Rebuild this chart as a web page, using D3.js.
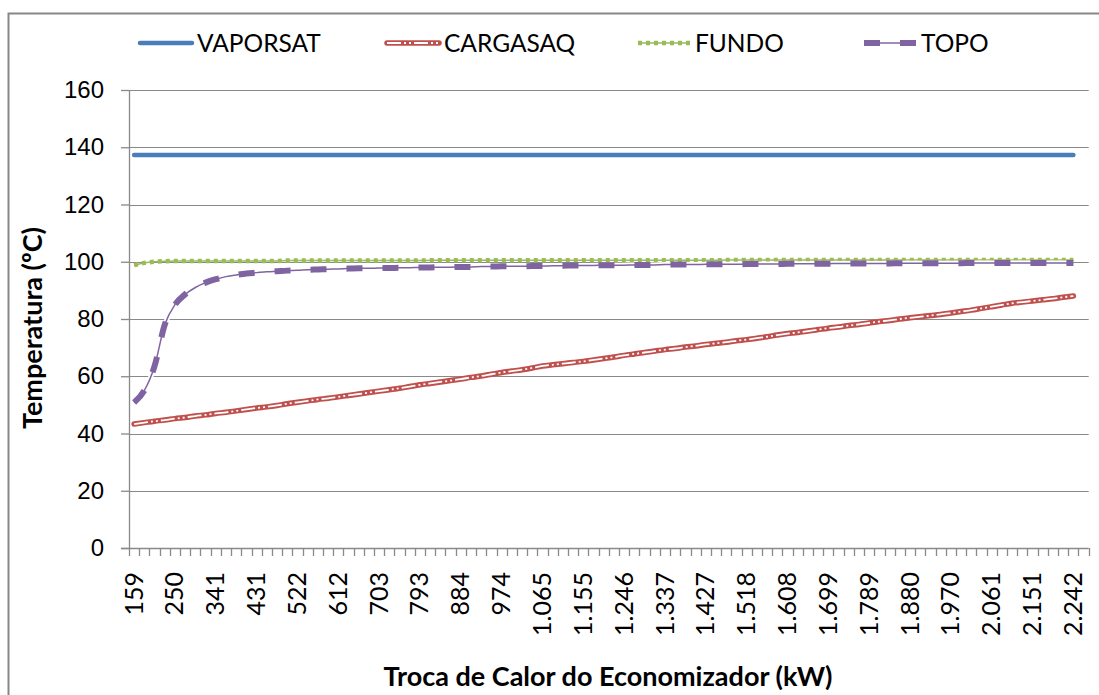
<!DOCTYPE html>
<html>
<head>
<meta charset="utf-8">
<script src="https://cdn.jsdelivr.net/npm/d3@7"></script>
<style>
    body { margin: 0; background: #fff; }
    svg { display: block; font-family: Lato, 'Open Sans', sans-serif; }
    .grid line { stroke: #898989; stroke-width: 1; }
    .axis path, .axis line { stroke: #898989; stroke-width: 1.3; }
    .axis text { fill: #000; font-size: 24px; }
    .x-axis text { font-size: 25px; }
    .title { font-weight: bold; font-size: 27px; fill: #000; }
    .legend text { font-size: 24.5px; fill: #000; }
</style>
</head>
<body>
<svg id="chart" width="1099" height="695"></svg>
<script>
/**
 * Data.
 */
const categories = [
    159, 182, 205, 227, 250, 273, 295, 318, 341, 363,
    386, 408, 431, 454, 476, 499, 522, 544, 567, 590,
    612, 635, 657, 680, 703, 725, 748, 771, 793, 816,
    839, 861, 884, 906, 929, 952, 974, 997, 1020, 1042,
    1065, 1088, 1110, 1133, 1155, 1178, 1201, 1223, 1246, 1269,
    1291, 1314, 1337, 1359, 1382, 1404, 1427, 1450, 1472, 1495,
    1518, 1540, 1563, 1586, 1608, 1631, 1653, 1676, 1699, 1721,
    1744, 1767, 1789, 1812, 1835, 1857, 1880, 1902, 1925, 1948,
    1970, 1993, 2016, 2038, 2061, 2084, 2106, 2129, 2151, 2174,
    2197, 2219, 2242
];

const vaporsat = [
    137.3, 137.3, 137.3, 137.3, 137.3, 137.3, 137.3, 137.3, 137.3, 137.3,
    137.3, 137.3, 137.3, 137.3, 137.3, 137.3, 137.3, 137.3, 137.3, 137.3,
    137.3, 137.3, 137.3, 137.3, 137.3, 137.3, 137.3, 137.3, 137.3, 137.3,
    137.3, 137.3, 137.3, 137.3, 137.3, 137.3, 137.3, 137.3, 137.3, 137.3,
    137.3, 137.3, 137.3, 137.3, 137.3, 137.3, 137.3, 137.3, 137.3, 137.3,
    137.3, 137.3, 137.3, 137.3, 137.3, 137.3, 137.3, 137.3, 137.3, 137.3,
    137.3, 137.3, 137.3, 137.3, 137.3, 137.3, 137.3, 137.3, 137.3, 137.3,
    137.3, 137.3, 137.3, 137.3, 137.3, 137.3, 137.3, 137.3, 137.3, 137.3,
    137.3, 137.3, 137.3, 137.3, 137.3, 137.3, 137.3, 137.3, 137.3, 137.3,
    137.3, 137.3, 137.3
];

const cargasaq = [
    43.3, 43.8, 44.3, 44.7, 45.2, 45.6, 46.1, 46.5, 47.0, 47.4,
    47.9, 48.4, 48.9, 49.3, 49.8, 50.4, 50.9, 51.4, 51.9, 52.3,
    52.8, 53.3, 53.8, 54.3, 54.8, 55.3, 55.8, 56.4, 57.0, 57.5,
    58.0, 58.5, 59.0, 59.6, 60.1, 60.7, 61.3, 61.8, 62.3, 62.9,
    63.6, 64.0, 64.4, 64.8, 65.2, 65.7, 66.2, 66.7, 67.3, 67.8,
    68.3, 68.8, 69.3, 69.7, 70.2, 70.6, 71.1, 71.5, 71.9, 72.4,
    72.8, 73.3, 73.8, 74.4, 74.9, 75.3, 75.8, 76.3, 76.8, 77.2,
    77.7, 78.1, 78.6, 79.1, 79.5, 80.0, 80.4, 80.8, 81.2, 81.6,
    82.1, 82.6, 83.1, 83.7, 84.3, 84.9, 85.5, 85.9, 86.3, 86.7,
    87.1, 87.6, 88.0
];

const fundo = [
    98.8, 99.6, 100.0, 100.2, 100.3, 100.3, 100.3, 100.3, 100.3, 100.3,
    100.3, 100.3, 100.3, 100.3, 100.3, 100.4, 100.4, 100.4, 100.4, 100.4,
    100.4, 100.4, 100.4, 100.4, 100.4, 100.4, 100.4, 100.4, 100.4, 100.5,
    100.5, 100.5, 100.5, 100.5, 100.5, 100.5, 100.5, 100.5, 100.5, 100.5,
    100.5, 100.5, 100.5, 100.5, 100.5, 100.5, 100.5, 100.5, 100.5, 100.5,
    100.5, 100.5, 100.5, 100.5, 100.5, 100.5, 100.5, 100.5, 100.6, 100.6,
    100.6, 100.6, 100.6, 100.6, 100.6, 100.6, 100.6, 100.6, 100.6, 100.6,
    100.6, 100.6, 100.6, 100.6, 100.6, 100.6, 100.6, 100.6, 100.6, 100.6,
    100.6, 100.6, 100.6, 100.6, 100.6, 100.6, 100.6, 100.6, 100.6, 100.6,
    100.6, 100.6, 100.6
];

const topo = [
    50.8, 55.0, 63.5, 78.0, 85.0, 88.6, 91.0, 92.7, 93.9, 94.8,
    95.4, 95.9, 96.2, 96.5, 96.7, 96.9, 97.0, 97.2, 97.3, 97.4,
    97.5, 97.6, 97.7, 97.7, 97.8, 97.8, 97.9, 97.9, 98.0, 98.0,
    98.1, 98.1, 98.2, 98.2, 98.3, 98.3, 98.4, 98.4, 98.4, 98.5,
    98.5, 98.6, 98.6, 98.7, 98.7, 98.7, 98.8, 98.8, 98.8, 98.9,
    98.9, 98.9, 99.0, 99.0, 99.0, 99.0, 99.1, 99.1, 99.1, 99.1,
    99.2, 99.2, 99.2, 99.2, 99.3, 99.3, 99.3, 99.3, 99.3, 99.4,
    99.4, 99.4, 99.4, 99.4, 99.4, 99.5, 99.5, 99.5, 99.5, 99.5,
    99.5, 99.5, 99.6, 99.6, 99.6, 99.6, 99.6, 99.6, 99.6, 99.6,
    99.6, 99.6, 99.6
];

const yTicks = [0, 20, 40, 60, 80, 100, 120, 140, 160];
const labelEvery = 4;

/**
 * Visual configs.
 */
const visWidth = 1099, visHeight = 695,
    plot = { left: 129, right: 1088.7, top: 90, bottom: 548 },
    slotCount = categories.length + 1; // Excel leaves one empty slot at the end

const series = [
    { name: 'VAPORSAT', values: vaporsat, color: '#4a7ebb' },
    { name: 'CARGASAQ', values: cargasaq, color: '#c0504d' },
    { name: 'FUNDO', values: fundo, color: '#9bbb59' },
    { name: 'TOPO', values: topo, color: '#8064a2' }
];

const ptBR = d3.formatLocale({ decimal: ',', thousands: '.', grouping: [3], currency: ['R$', ''] }),
    fmt = ptBR.format(',d');

const svg = d3.select('#chart');

// Chart border
svg.append('rect')
    .attr('x', 8.5).attr('y', 13.5)
    .attr('width', visWidth).attr('height', visHeight)
    .attr('fill', 'none').attr('stroke', '#878787').attr('stroke-width', 2);

const xScale = d3.scaleLinear().domain([0, slotCount]).range([plot.left, plot.right]),
    yScale = d3.scaleLinear().domain([0, 160]).range([plot.bottom, plot.top]),
    xPos = i => xScale(i + 0.5);

// Gridlines
svg.append('g').attr('class', 'grid')
    .selectAll('line').data(yTicks.slice(1)).join('line')
    .attr('x1', plot.left).attr('x2', plot.right)
    .attr('y1', d => Math.round(yScale(d)) + 0.5).attr('y2', d => Math.round(yScale(d)) + 0.5);

// Y axis
const yAxis = d3.axisLeft(yScale).tickValues(yTicks).tickSize(8).tickPadding(17);
svg.append('g').attr('class', 'axis y-axis')
    .attr('transform', 'translate(' + plot.left + ',0)')
    .call(yAxis)
    .call(g => g.select('.domain').attr('d', 'M0.5,' + plot.top + 'V' + plot.bottom));

// X axis: one tick per category slot, labels every 4th category
const xAxisG = svg.append('g').attr('class', 'axis x-axis')
    .attr('transform', 'translate(0,' + plot.bottom + ')');
xAxisG.append('line')
    .attr('x1', plot.left - 8).attr('x2', plot.right)
    .attr('y1', 0.5).attr('y2', 0.5);
xAxisG.selectAll('.tick-mark').data(d3.range(slotCount + 1)).join('line')
    .attr('class', 'tick-mark')
    .attr('x1', d => Math.round(xScale(d)) + 0.5).attr('x2', d => Math.round(xScale(d)) + 0.5)
    .attr('y1', 0).attr('y2', 8);
xAxisG.selectAll('text').data(categories.map((c, i) => ({ c, i })).filter(d => d.i % labelEvery === 0))
    .join('text')
    .attr('transform', d => 'translate(' + (xPos(d.i) + 8.5) + ',' + 24 + ') rotate(-90)')
    .attr('text-anchor', 'end')
    .text(d => fmt(d.c));

// Series
const line = d3.line()
    .x((d, i) => xPos(i))
    .y(d => yScale(d))
    .curve(d3.curveMonotoneX);

const lines = svg.append('g').attr('class', 'series');

function drawStyled(g, s, pathD) {
    const path = () => g.append('path').attr('d', pathD).attr('fill', 'none');
    if (s.name === 'VAPORSAT') {
        path().attr('stroke', s.color).attr('stroke-width', 4.5).attr('stroke-linecap', 'round');
    } else if (s.name === 'CARGASAQ') {
        path().attr('stroke', s.color).attr('stroke-width', 5.5).attr('stroke-linecap', 'round');
        path().attr('stroke', '#fff').attr('stroke-width', 1.8)
            .attr('stroke-dasharray', '14,3,2,3,2,3');
    } else if (s.name === 'FUNDO') {
        path().attr('stroke', s.color).attr('stroke-width', 1.5);
        path().attr('stroke', s.color).attr('stroke-width', 4.5)
            .attr('stroke-dasharray', '4,4');
    } else {
        path().attr('stroke', '#fff').attr('stroke-width', 5);
        path().attr('stroke', s.color).attr('stroke-width', 1.5);
        path().attr('stroke', s.color).attr('stroke-width', 6)
            .attr('stroke-dasharray', '16,20');
    }
}

series.forEach(s => drawStyled(lines.append('g'), s, line(s.values)));

// Legend
const legendX = [138, 385, 636, 862];
const legend = svg.append('g').attr('class', 'legend');
series.forEach((s, i) => {
    const g = legend.append('g').attr('transform', 'translate(' + legendX[i] + ',43)');
    drawStyled(g, s, 'M2,0H54');
    g.append('text').attr('x', 59).attr('dy', '0.35em').text(s.name);
});

// Axis titles
svg.append('text').attr('class', 'title')
    .attr('transform', 'translate(42,' + 328 + ') rotate(-90)')
    .attr('text-anchor', 'middle')
    .text('Temperatura (ºC)');

svg.append('text').attr('class', 'title')
    .attr('x', 608).attr('y', 686)
    .attr('text-anchor', 'middle')
    .text('Troca de Calor do Economizador (kW)');
</script>
</body>
</html>
